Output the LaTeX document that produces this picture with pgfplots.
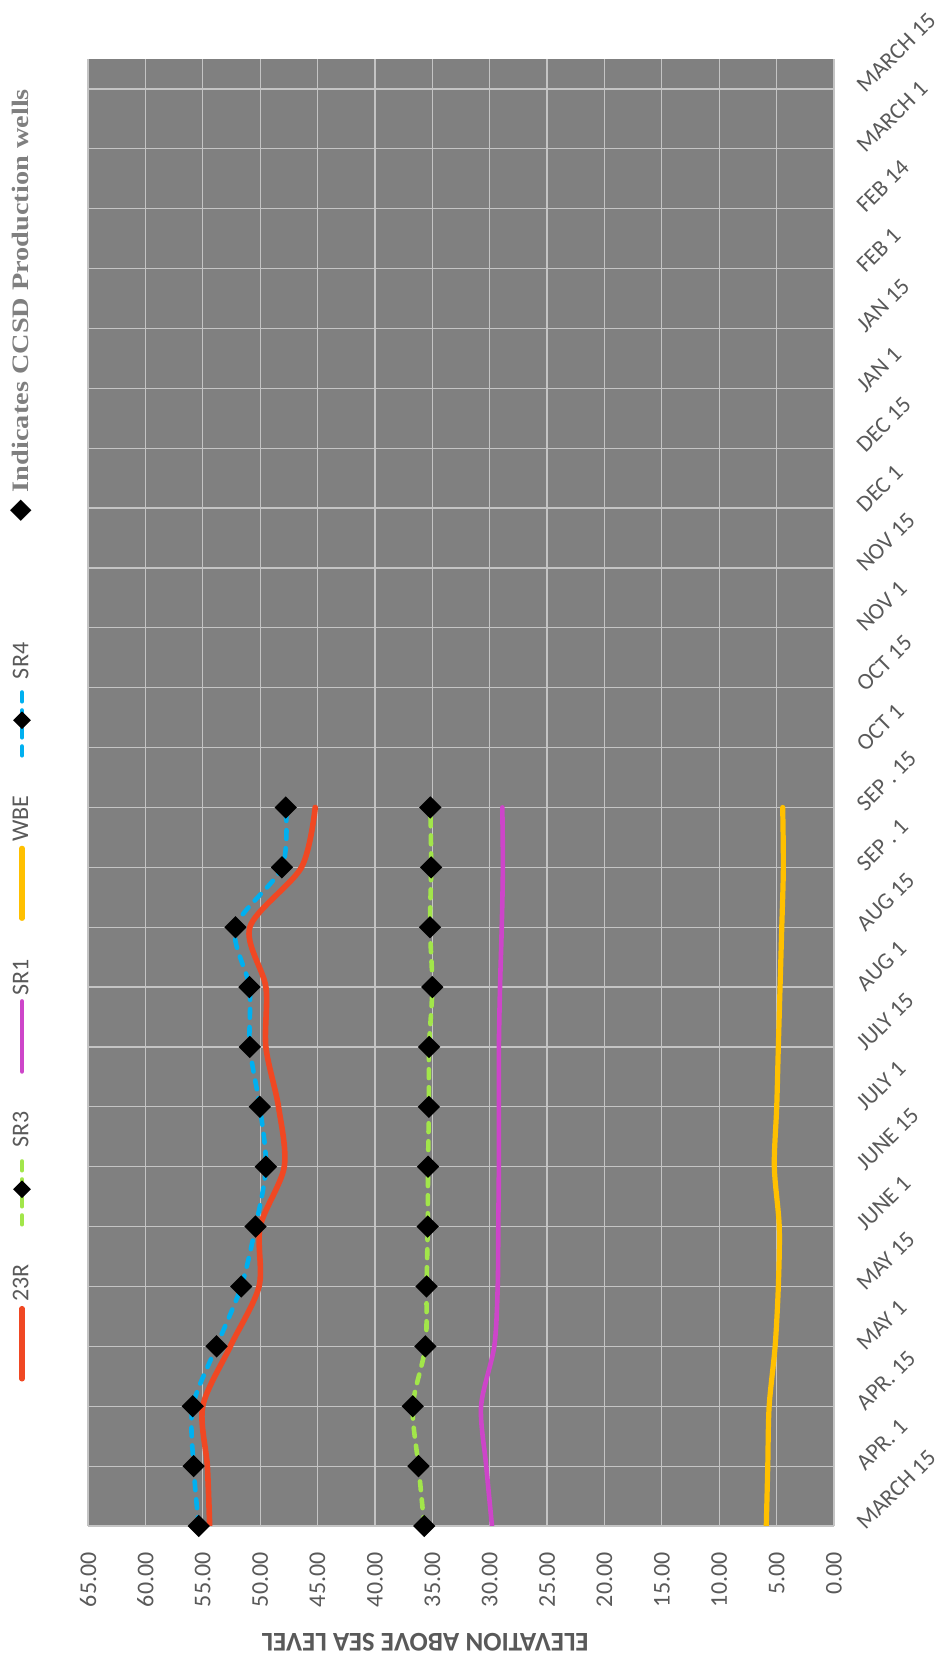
\documentclass[border=0pt]{standalone}
\usepackage{pgfplots}
\pgfplotsset{compat=1.18}
\usepackage{graphicx}
\usepackage{fontspec}
\setmainfont{Carlito}
\newfontfamily\notefont{Liberation Serif}
\newfontfamily\symfont{DejaVu Sans}
\definecolor{plotbg}{HTML}{808080}
\definecolor{gridc}{HTML}{C4C4C4}
\definecolor{labc}{HTML}{595959}
\definecolor{notec}{HTML}{7F7F7F}
\definecolor{c23r}{HTML}{F04823}
\definecolor{csr3}{HTML}{A2E64A}
\definecolor{csr1}{HTML}{CD45C9}
\definecolor{cwbe}{HTML}{FFC000}
\definecolor{csr4}{HTML}{00B0F0}
\begin{document}
\rotatebox{90}{%
\begin{tikzpicture}
\path[use as bounding box] (0,0) rectangle (830pt,467pt);
\begin{axis}[
  at={(67pt,50pt)}, anchor=south west,
  scale only axis, width=733.5pt, height=373pt,
  xmin=0, xmax=24.5, ymin=0, ymax=65,
  xtick={0,...,24},
  xticklabels={MARCH 15, APR. 1, APR. 15, MAY 1, MAY 15, JUNE 1, JUNE 15, JULY 1, JULY 15, AUG 1, AUG 15, SEP . 1, SEP . 15, OCT 1, OCT 15, NOV 1, NOV 15, DEC 1, DEC 15, JAN 1, JAN 15, FEB 1, FEB 14, MARCH 1, MARCH 15},
  ytick={0,5,...,65},
  yticklabels={0.00,5.00,10.00,15.00,20.00,25.00,30.00,35.00,40.00,45.00,50.00,55.00,60.00,65.00},
  major tick length=0pt,
  axis line style={draw=none},
  grid=major,
  major grid style={draw=gridc, line width=0.6pt},
  axis background/.style={fill=plotbg},
  tick label style={font=\fontsize{12pt}{14pt}\selectfont, text=labc},
  xticklabel style={rotate=-45, anchor=west, inner sep=0pt, font=\fontsize{11.6pt}{14pt}\selectfont},
  xticklabel shift=13pt,
  yticklabel style={anchor=east, inner sep=0pt},
  yticklabel shift=13pt,
  ylabel={ELEVATION ABOVE SEA LEVEL},
  every axis y label/.style={at={(axis description cs:-0.0736,0.548)}, rotate=90, anchor=base, font=\fontsize{13.5pt}{15pt}\selectfont\bfseries, text=labc},
  legend columns=-1,
  legend style={at={(axis description cs:0.0982,1.0885)}, anchor=west, draw=none, fill=none, inner sep=0pt,
    font=\fontsize{12pt}{14pt}\selectfont, text=labc,
    nodes={inner sep=2pt},
    /tikz/every even column/.append style={column sep=17pt}},
  legend image code/.code={\draw[mark repeat=2,mark phase=2,#1,mark size=2pt] plot coordinates {(0pt,0pt) (17.5pt,0pt) (35pt,0pt)};},
]
\addplot[color=c23r, line width=2.8pt, line cap=round, smooth, no markers] coordinates {
(0,54.4) (1,54.6) (2,55.0) (3,52.6) (4,50.1) (5,50.0) (6,47.9) (7,48.4) (8,49.5) (9,49.5) (10,50.9) (11,46.4) (12,45.2)};
\addlegendentry{23R}
\addplot[color=csr3, line width=2.3pt, line cap=round, dash pattern=on 4.4pt off 4.6pt, smooth,
  mark=square*, mark size=2.8pt, mark options={rotate=45, solid, fill=black, draw=black}] coordinates {
(0,35.7) (1,36.2) (2,36.7) (3,35.6) (4,35.5) (5,35.4) (6,35.37) (7,35.3) (8,35.28) (9,35.0) (10,35.2) (11,35.1) (12,35.17)};
\addlegendentry{SR3}
\addplot[color=csr1, line width=2.3pt, line cap=round, smooth, no markers] coordinates {
(0,29.8) (1,30.3) (2,30.75) (3,29.6) (4,29.3) (5,29.25) (6,29.2) (7,29.2) (8,29.2) (9,29.1) (10,28.95) (11,28.85) (12,28.9)};
\addlegendentry{SR1}
\addplot[color=cwbe, line width=2.6pt, line cap=round, smooth, no markers] coordinates {
(0,5.9) (1,5.77) (2,5.65) (3,5.13) (4,4.85) (5,4.77) (6,5.2) (7,4.99) (8,4.85) (9,4.7) (10,4.55) (11,4.41) (12,4.47)};
\addlegendentry{WBE}
\addplot[color=csr4, line width=2.3pt, line cap=round, dash pattern=on 4.4pt off 4.6pt, smooth,
  mark=square*, mark size=2.8pt, mark options={rotate=45, solid, fill=black, draw=black}] coordinates {
(0,55.35) (1,55.8) (2,55.87) (3,53.8) (4,51.65) (5,50.4) (6,49.5) (7,50.03) (8,50.9) (9,50.93) (10,52.15) (11,48.1) (12,47.77)};
\addlegendentry{SR4}
\end{axis}
\node[anchor=base west, inner sep=0pt] at (569pt,452.5pt) {{\symfont\fontsize{14pt}{14pt}\selectfont ◆}\hspace{4pt}{\color{notec}\scalebox{1.2}[1]{\notefont\bfseries\fontsize{11.8pt}{13pt}\selectfont Indicates CCSD Production wells}}};
\end{tikzpicture}}
\end{document}
